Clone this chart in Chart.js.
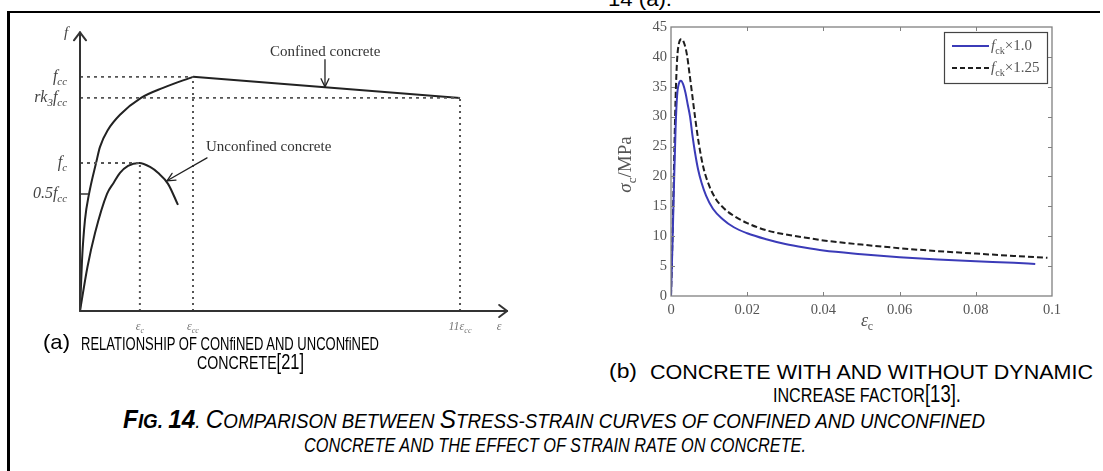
<!DOCTYPE html>
<html><head><meta charset="utf-8">
<script src="https://cdn.jsdelivr.net/npm/chart.js@4.4.0/dist/chart.umd.min.js"></script>
<style>
html,body{margin:0;padding:0;background:#fff;width:1103px;height:471px;overflow:hidden;position:relative;}
#frameTop{position:absolute;left:7px;top:11px;width:1093px;height:2px;background:#000;}
#frameLeft{position:absolute;left:7px;top:11px;width:3px;height:460px;background:#000;}
.cap{position:absolute;white-space:nowrap;font-family:"Liberation Sans Narrow","Liberation Sans",Arial,sans-serif;color:#000;transform-origin:0 50%;line-height:1;transform:translateY(-50%);}
.big{font-size:1.3em;}
canvas{position:absolute;}
#cA{left:0;top:0;}
#cB{left:560px;top:0;}
</style></head><body>
<div id="frameTop"></div><div id="frameLeft"></div>
<div class="cap" data-w="64" style="left:608px;top:-2px;font-size:21px;">14 (a).</div>
<canvas id="cA" width="540" height="340"></canvas>
<canvas id="cB" width="543" height="345"></canvas>
<div class="cap" data-w="27" style="left:43px;top:341px;font-size:21px">(a)</div>
<div class="cap" data-w="298" style="left:81px;top:343px;font-size:19px">RELATIONSHIP OF CONfiNED AND UNCONfiNED</div>
<div class="cap" data-w="107" style="left:197px;top:362px;font-size:19px">CONCRETE<span style="font-size:22px">[21]</span></div>
<div class="cap" data-w="28" style="left:609px;top:370px;font-size:21px">(b)</div>
<div class="cap" data-w="443" style="left:650px;top:372px;font-size:20px">CONCRETE WITH AND WITHOUT DYNAMIC</div>
<div class="cap" data-w="188" style="left:773px;top:394px;font-size:20px">INCREASE FACTOR<span style="font-size:23px">[13].</span></div>
<div class="cap" data-w="862" style="left:123px;top:419px;font-style:italic;font-size:20px"><b><span class="big">F</span>IG. <span class="big">14</span></b>. <span class="big">C</span>OMPARISON BETWEEN <span class="big">S</span>TRESS-STRAIN CURVES OF CONFINED AND UNCONFINED</div>
<div class="cap" data-w="502" style="left:304px;top:445px;font-style:italic;font-size:20px">CONCRETE AND THE EFFECT OF STRAIN RATE ON CONCRETE.</div>
<script>
// ===== Chart (a): schematic, strain in units of eps_cc, stress in units of f_cc =====
const confinedStrain   = [0, 0.018, 0.044, 0.08, 0.142, 0.177, 0.248, 0.354, 0.54, 0.735, 1];
const confinedStress   = [0, 0.218, 0.389, 0.5, 0.632, 0.701, 0.774, 0.838, 0.91, 0.953, 1];
const softeningStrain  = [1, 3.363];
const softeningStress  = [1, 0.91];
const unconfinedStrain = [0, 0.066, 0.133, 0.239, 0.297, 0.354, 0.425, 0.525, 0.62, 0.69, 0.779, 0.867];
const unconfinedStress = [0, 0.188, 0.333, 0.5, 0.547, 0.59, 0.62, 0.632, 0.615, 0.59, 0.543, 0.453];
const stressLevels = [1, 0.91, 0.632, 0.5];          // fcc, rk3fcc, fc, 0.5fcc
const strainLevels = [0.53, 1, 3.363];               // eps_c, eps_cc, 11 eps_cc
const axisTip = [3.78, 1.19];                        // arrow tips (x, y)
const confArrow = [2.168, 1.073, 2.168, 0.957];
const unconfArrow = [1.124, 0.654, 0.77, 0.556];
const calloutText = ['Confined concrete', 'Unconfined concrete'];
const calloutPos = [[1.681, 1.107], [1.115, 0.701]];

// ===== Chart (b): sigma_c (MPa) vs eps_c =====
const strainFck10  = [0, 0.0004, 0.0008, 0.0012, 0.0016, 0.0021, 0.0026, 0.0032, 0.0038, 0.0044, 0.005, 0.0056, 0.0063, 0.0071, 0.008, 0.0092, 0.011, 0.0135, 0.0165, 0.02, 0.025, 0.03, 0.035, 0.04, 0.05, 0.06, 0.07, 0.08, 0.09, 0.0956];
const stressFck10  = [0, 9, 19, 28, 33.5, 35.6, 36, 35.4, 34, 32, 30, 27, 24, 21.2, 19, 16.8, 14.6, 12.9, 11.5, 10.5, 9.5, 8.7, 8.1, 7.6, 7.0, 6.5, 6.1, 5.8, 5.55, 5.35];
const strainFck125 = [0, 0.0004, 0.0008, 0.0012, 0.0016, 0.0021, 0.0028, 0.0035, 0.0042, 0.0049, 0.0056, 0.0064, 0.0073, 0.0085, 0.01, 0.0118, 0.014, 0.0165, 0.02, 0.025, 0.03, 0.035, 0.04, 0.05, 0.06, 0.07, 0.08, 0.09, 0.0988];
const stressFck125 = [0, 10, 22, 33, 39.5, 42.3, 43, 42.2, 40.3, 37, 33.5, 29.5, 25.5, 21.5, 18.5, 16.2, 14.6, 13.4, 12.2, 11.0, 10.3, 9.8, 9.3, 8.6, 8.0, 7.5, 7.1, 6.7, 6.4];
const xTickLabels = ['0', '0.02', '0.04', '0.06', '0.08', '0.1'];
const yTickLabels = ['0', '5', '10', '15', '20', '25', '30', '35', '40', '45'];
const seriesNames = ['×1.0', '×1.25'];

const zip = (a, b) => a.map((v, i) => ({x: v, y: b[i]}));
const SERIF = '"Liberation Serif","Times New Roman",serif';

function rich(ctx, x, y, parts, size, align, color) {
  const items = parts.map(p => {
    const sub = p[1].includes('s'), it = p[1].includes('i');
    const sz = sub ? size * 0.68 : size;
    return {t: p[0], sub, f: (it ? 'italic ' : '') + sz + 'px ' + SERIF};
  });
  let w = 0;
  items.forEach(o => { ctx.font = o.f; o.w = ctx.measureText(o.t).width; w += o.w; });
  let cx = align === 'right' ? x - w : align === 'center' ? x - w / 2 : x;
  ctx.fillStyle = color; ctx.textBaseline = 'alphabetic'; ctx.textAlign = 'left';
  items.forEach(o => { ctx.font = o.f; ctx.fillText(o.t, cx, y + (o.sub ? size * 0.28 : 0)); cx += o.w; });
}
function seg(ctx, x1, y1, x2, y2) { ctx.beginPath(); ctx.moveTo(x1, y1); ctx.lineTo(x2, y2); ctx.stroke(); }
function head(ctx, x, y, ang, len, spread) {
  ctx.beginPath();
  ctx.moveTo(x - len * Math.cos(ang - spread), y - len * Math.sin(ang - spread));
  ctx.lineTo(x, y);
  ctx.lineTo(x - len * Math.cos(ang + spread), y - len * Math.sin(ang + spread));
  ctx.stroke();
}

const annotA = {
  id: 'annotA',
  afterDatasetsDraw(chart) {
    const {ctx, scales: {x, y}} = chart;
    const X = v => x.getPixelForValue(v), Y = v => y.getPixelForValue(v);
    ctx.save();
    ctx.strokeStyle = '#333'; ctx.lineWidth = 2; ctx.lineCap = 'round'; ctx.lineJoin = 'round';
    seg(ctx, X(0), Y(0), X(0), Y(axisTip[1]));
    head(ctx, X(0), Y(axisTip[1]), -Math.PI / 2, 10, 0.65);
    seg(ctx, X(0), Y(0), X(axisTip[0]), Y(0));
    head(ctx, X(axisTip[0]), Y(0), 0, 10, 0.65);
    ctx.lineWidth = 1.5;
    seg(ctx, X(0), Y(stressLevels[3]), X(0) + 8, Y(stressLevels[3]));
    // callout arrows
    ctx.lineWidth = 1.3; ctx.strokeStyle = '#222';
    [confArrow, unconfArrow].forEach(a => {
      const x1 = X(a[0]), y1 = Y(a[1]), x2 = X(a[2]), y2 = Y(a[3]);
      seg(ctx, x1, y1, x2, y2);
      head(ctx, x2, y2, Math.atan2(y2 - y1, x2 - x1), 9, 0.45);
    });
    // callout labels
    ctx.font = '15px ' + SERIF; ctx.fillStyle = '#333'; ctx.textBaseline = 'middle'; ctx.textAlign = 'left';
    calloutText.forEach((t, i) => ctx.fillText(t, X(calloutPos[i][0]), Y(calloutPos[i][1])));
    // y-axis labels
    const ax = X(0) - 13;
    rich(ctx, X(0) - 16, Y(axisTip[1]) + 5, [['f', 'i']], 15, 'left', '#444');
    rich(ctx, ax, Y(stressLevels[0]) + 4, [['f', 'i'], ['cc', 'si']], 16, 'right', '#444');
    rich(ctx, ax, Y(stressLevels[1]) + 4, [['rk', 'i'], ['3', 'si'], ['f', 'i'], ['cc', 'si']], 16, 'right', '#444');
    rich(ctx, ax, Y(stressLevels[2]) + 4, [['f', 'i'], ['c', 'si']], 16, 'right', '#444');
    rich(ctx, ax, Y(stressLevels[3]) + 4, [['0.5', 'i'], ['f', 'i'], ['cc', 'si']], 16, 'right', '#444');
    // x-axis labels
    const by = Y(0) + 19;
    rich(ctx, X(strainLevels[0]), by, [['ε', 'i'], ['c', 'si']], 12, 'center', '#777');
    rich(ctx, X(strainLevels[1]), by, [['ε', 'i'], ['cc', 'si']], 12, 'center', '#777');
    rich(ctx, X(strainLevels[2]), by, [['11ε', 'i'], ['cc', 'si']], 12, 'center', '#777');
    rich(ctx, X(axisTip[0]) - 8, by, [['ε', 'i']], 12, 'center', '#777');
    ctx.restore();
  }
};

const dotH = {borderColor: '#555', borderWidth: 1.8, borderDash: [3, 4], pointRadius: 0};
const dotV = {borderColor: '#555', borderWidth: 2, borderDash: [2, 4], pointRadius: 0};
new Chart(document.getElementById('cA'), {
  type: 'line',
  data: {datasets: [
    Object.assign({data: [{x: 0, y: stressLevels[0]}, {x: strainLevels[1], y: stressLevels[0]}]}, dotH),
    Object.assign({data: [{x: 0, y: stressLevels[1]}, {x: strainLevels[2], y: stressLevels[1]}]}, dotH),
    Object.assign({data: [{x: 0, y: stressLevels[2]}, {x: strainLevels[0], y: stressLevels[2]}]}, dotH),
    Object.assign({data: [{x: strainLevels[0], y: 0}, {x: strainLevels[0], y: stressLevels[2]}]}, dotV),
    Object.assign({data: [{x: strainLevels[1], y: 0}, {x: strainLevels[1], y: stressLevels[0]}]}, dotV),
    Object.assign({data: [{x: strainLevels[2], y: 0}, {x: strainLevels[2], y: stressLevels[1]}]}, dotV),
    {data: zip(confinedStrain, confinedStress), borderColor: '#222', borderWidth: 2, pointRadius: 0, cubicInterpolationMode: 'monotone'},
    {data: zip(softeningStrain, softeningStress), borderColor: '#222', borderWidth: 2, pointRadius: 0},
    {data: zip(unconfinedStrain, unconfinedStress), borderColor: '#222', borderWidth: 2, pointRadius: 0, cubicInterpolationMode: 'monotone'}
  ]},
  options: {
    responsive: false, animation: false, events: [], clip: false,
    layout: {padding: {left: 80, top: 30, right: 540 - 80 - 3.8 * 113, bottom: 29}},
    scales: {
      x: {type: 'linear', min: 0, max: 3.8, display: false},
      y: {type: 'linear', min: 0, max: 1.2, display: false}
    },
    plugins: {legend: {display: false}, tooltip: {enabled: false}}
  },
  plugins: [annotA]
});

// ===== Chart (b) =====
const BLUE = '#3b3bb8', DARK = '#1e1e1e', GREY = '#555';
const annotB = {
  id: 'annotB',
  afterDraw(chart) {
    const {ctx, chartArea: a, scales: {x, y}} = chart;
    ctx.save();
    ctx.strokeStyle = '#808080'; ctx.lineWidth = 1.3;
    ctx.strokeRect(a.left, a.top, a.right - a.left, a.bottom - a.top);
    ctx.lineWidth = 1;
    x.ticks.forEach(t => {
      if (t.value <= 0 || t.value >= 0.1 - 1e-9) return;
      const px = Math.round(x.getPixelForValue(t.value)) + 0.5;
      seg(ctx, px, a.bottom, px, a.bottom - 4); seg(ctx, px, a.top, px, a.top + 4);
    });
    y.ticks.forEach(t => {
      if (t.value <= 0 || t.value >= 45) return;
      const py = Math.round(y.getPixelForValue(t.value)) + 0.5;
      seg(ctx, a.left, py, a.left + 4, py); seg(ctx, a.right, py, a.right - 4, py);
    });
    // legend
    const lw = 103, lh = 51, lx = a.right - 5 - lw, ly = a.top + 5;
    ctx.fillStyle = '#fff'; ctx.fillRect(lx, ly, lw, lh);
    ctx.strokeStyle = '#444'; ctx.lineWidth = 1.2; ctx.strokeRect(lx + 0.5, ly + 0.5, lw, lh);
    const rows = [ly + 14, ly + 36];
    ctx.lineWidth = 2;
    ctx.strokeStyle = BLUE; ctx.setLineDash([]); seg(ctx, lx + 8, rows[0], lx + 45, rows[0]);
    ctx.strokeStyle = DARK; ctx.setLineDash([5, 3]); seg(ctx, lx + 8, rows[1], lx + 45, rows[1]);
    ctx.setLineDash([]);
    seriesNames.forEach((n, i) => rich(ctx, lx + 47, rows[i] + 4, [['f', 'i'], ['ck', 's'], [n, 'r']], 15, 'left', GREY));
    // axis titles
    rich(ctx, (a.left + a.right) / 2 + 3, a.bottom + 30, [['ε', 'i']], 18, 'center', GREY);
    rich(ctx, (a.left + a.right) / 2 + 9, a.bottom + 34, [['c', 'r']], 12, 'center', GREY);
    ctx.translate(a.left - 40, (a.top + a.bottom) / 2 + 3);
    ctx.rotate(-Math.PI / 2);
    rich(ctx, 0, 0, [['σ', 'i'], ['c', 's'], ['/MPa', 'r']], 19, 'center', GREY);
    ctx.restore();
  }
};
const labelFor = (arr) => (v) => { const m = arr.find(s => Math.abs(parseFloat(s) - v) < 1e-9); return m === undefined ? '' : m; };
new Chart(document.getElementById('cB'), {
  type: 'line',
  data: {datasets: [
    {data: zip(strainFck10, stressFck10), borderColor: BLUE, borderWidth: 2, pointRadius: 0, cubicInterpolationMode: 'monotone'},
    {data: zip(strainFck125, stressFck125), borderColor: DARK, borderWidth: 2, borderDash: [6, 3], pointRadius: 0, cubicInterpolationMode: 'monotone'}
  ]},
  options: {
    responsive: false, animation: false, events: [],
    layout: {padding: {left: 0, top: 27, right: 51, bottom: 0}},
    scales: {
      x: {type: 'linear', min: 0, max: 0.1,
          afterFit: s => { s.height = 49; },
          grid: {display: false, drawTicks: false}, border: {display: false},
          ticks: {stepSize: 0.02, padding: 5, color: GREY, font: {family: SERIF, size: 14.5}, maxRotation: 0, callback: labelFor(xTickLabels)}},
      y: {type: 'linear', min: 0, max: 45,
          afterFit: s => { s.width = 111; },
          grid: {display: false, drawTicks: false}, border: {display: false},
          ticks: {stepSize: 5, padding: 4, color: GREY, font: {family: SERIF, size: 14.5}, callback: labelFor(yTickLabels)}}
    },
    plugins: {legend: {display: false}, tooltip: {enabled: false}}
  },
  plugins: [annotB]
});

// fit caption widths
function fitCaps() {
  document.querySelectorAll('.cap').forEach(el => {
    el.style.transform = 'translateY(-50%)';
    const r = el.getBoundingClientRect().width;
    const w = +el.dataset.w;
    el.style.transform = 'translateY(-50%) scaleX(' + (w / r).toFixed(4) + ')';
  });
}
fitCaps();
if (document.fonts && document.fonts.ready) document.fonts.ready.then(fitCaps);
</script>
</body></html>
